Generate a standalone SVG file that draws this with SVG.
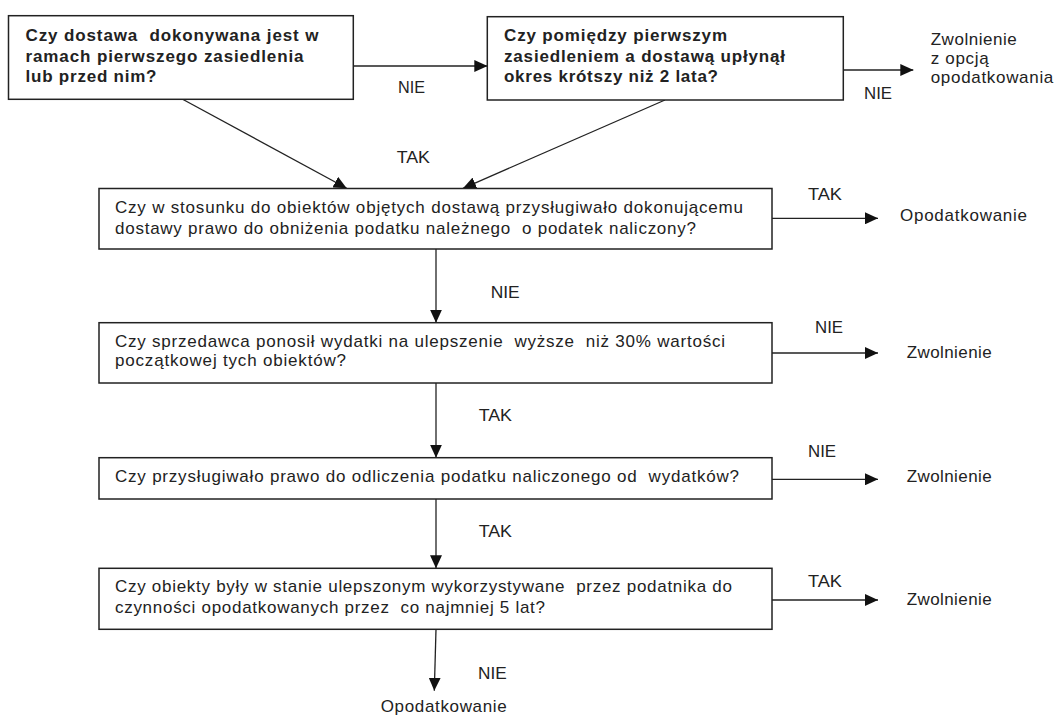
<svg xmlns="http://www.w3.org/2000/svg" width="1059" height="716" viewBox="0 0 1059 716">
<style>
.box{fill:#fff;stroke:#222;stroke-width:1.5}
.conn{stroke:#222;stroke-width:1.3;fill:none;marker-end:url(#ah)}
.t{font-family:"Liberation Sans",Arial,sans-serif;font-size:17px;fill:#222;white-space:pre}
.b{font-weight:bold}
</style>
<defs>
<marker id="ah" markerUnits="userSpaceOnUse" viewBox="0 0 13 12" markerWidth="13" markerHeight="12" refX="13" refY="6" orient="auto">
<path d="M0,0 L13,6 L0,12 z" fill="#111"/>
</marker>
</defs>
<rect width="1059" height="716" fill="#fff"/>
<g id="connectors">
<line class="conn" x1="353.3" y1="66" x2="487.3" y2="66"/>
<line class="conn" x1="843.3" y1="70" x2="913.3" y2="70"/>
<line class="conn" x1="182.6" y1="99.3" x2="346.7" y2="188.3"/>
<line class="conn" x1="665" y1="100" x2="463" y2="188.3"/>
<line class="conn" x1="772" y1="218.3" x2="878" y2="218.3"/>
<line class="conn" x1="436" y1="249" x2="436" y2="322.7"/>
<line class="conn" x1="772" y1="353" x2="878" y2="353"/>
<line class="conn" x1="436" y1="383" x2="436" y2="457.7"/>
<line class="conn" x1="772" y1="479.3" x2="878" y2="479.3"/>
<line class="conn" x1="436" y1="499" x2="436" y2="568.3"/>
<line class="conn" x1="772" y1="600" x2="878" y2="600"/>
<line class="conn" x1="436" y1="629.3" x2="434.3" y2="690.7"/>
<text class="t" x="398" y="92.7" textLength="27" lengthAdjust="spacingAndGlyphs">NIE</text>
<text class="t" x="864" y="99.3" textLength="28" lengthAdjust="spacingAndGlyphs">NIE</text>
<text class="t" x="396.7" y="162.7" textLength="33.3" lengthAdjust="spacingAndGlyphs">TAK</text>
<text class="t" x="808" y="200" textLength="34" lengthAdjust="spacingAndGlyphs">TAK</text>
<text class="t" x="490.7" y="298" textLength="29" lengthAdjust="spacingAndGlyphs">NIE</text>
<text class="t" x="815" y="333" textLength="28" lengthAdjust="spacingAndGlyphs">NIE</text>
<text class="t" x="478.7" y="420.7" textLength="33.3" lengthAdjust="spacingAndGlyphs">TAK</text>
<text class="t" x="808" y="457" textLength="28" lengthAdjust="spacingAndGlyphs">NIE</text>
<text class="t" x="478.7" y="536.7" textLength="33.3" lengthAdjust="spacingAndGlyphs">TAK</text>
<text class="t" x="808" y="586.7" textLength="34" lengthAdjust="spacingAndGlyphs">TAK</text>
<text class="t" x="478" y="678.5" textLength="28.7" lengthAdjust="spacingAndGlyphs">NIE</text>
</g>
<g id="n1">
<rect class="box" x="8.5" y="15.7" width="344.8" height="83.6"/>
<text class="t b" x="25.5" y="41" textLength="293" lengthAdjust="spacing">Czy dostawa  dokonywana jest w</text>
<text class="t b" x="25.5" y="61.5" textLength="278" lengthAdjust="spacing">ramach pierwszego zasiedlenia</text>
<text class="t b" x="25.5" y="81.5" textLength="131" lengthAdjust="spacing">lub przed nim?</text>
</g>
<g id="n2">
<rect class="box" x="487.3" y="16.7" width="356" height="83.3"/>
<text class="t b" x="504" y="41" textLength="223" lengthAdjust="spacing">Czy pomiędzy pierwszym</text>
<text class="t b" x="504" y="61.5" textLength="281" lengthAdjust="spacing">zasiedleniem a dostawą upłynął</text>
<text class="t b" x="504" y="81.5" textLength="214" lengthAdjust="spacing">okres krótszy niż 2 lata?</text>
</g>
<g id="n2out">
<text class="t" x="930.7" y="45" textLength="86" lengthAdjust="spacing">Zwolnienie</text>
<text class="t" x="930.7" y="64" textLength="58" lengthAdjust="spacing">z opcją</text>
<text class="t" x="930.7" y="83" textLength="122.6" lengthAdjust="spacing">opodatkowania</text>
</g>
<g id="n3">
<rect class="box" x="99" y="188.5" width="673" height="60.5"/>
<text class="t" x="115" y="213" textLength="628" lengthAdjust="spacing">Czy w stosunku do obiektów objętych dostawą przysługiwało dokonującemu</text>
<text class="t" x="115" y="234" textLength="581" lengthAdjust="spacing">dostawy prawo do obniżenia podatku należnego  o podatek naliczony?</text>
</g>
<g id="n3out">
<text class="t" x="900" y="220.7" textLength="127" lengthAdjust="spacing">Opodatkowanie</text>
</g>
<g id="n4">
<rect class="box" x="99" y="322.7" width="673" height="60.3"/>
<text class="t" x="115" y="346.5" textLength="610" lengthAdjust="spacing">Czy sprzedawca ponosił wydatki na ulepszenie  wyższe  niż 30% wartości</text>
<text class="t" x="115" y="366" textLength="231" lengthAdjust="spacing">początkowej tych obiektów?</text>
</g>
<g id="n4out">
<text class="t" x="906.7" y="358" textLength="85" lengthAdjust="spacing">Zwolnienie</text>
</g>
<g id="n5">
<rect class="box" x="99" y="457.7" width="673" height="41.3"/>
<text class="t" x="115" y="482" textLength="624" lengthAdjust="spacing">Czy przysługiwało prawo do odliczenia podatku naliczonego od  wydatków?</text>
</g>
<g id="n5out">
<text class="t" x="906.7" y="482.3" textLength="85" lengthAdjust="spacing">Zwolnienie</text>
</g>
<g id="n6">
<rect class="box" x="99" y="568.3" width="673" height="61"/>
<text class="t" x="115" y="592" textLength="617" lengthAdjust="spacing">Czy obiekty były w stanie ulepszonym wykorzystywane  przez podatnika do</text>
<text class="t" x="115" y="613" textLength="430" lengthAdjust="spacing">czynności opodatkowanych przez  co najmniej 5 lat?</text>
</g>
<g id="n6out">
<text class="t" x="906.7" y="605" textLength="85" lengthAdjust="spacing">Zwolnienie</text>
</g>
<g id="n7">
<text class="t" x="380.7" y="711.5" textLength="126" lengthAdjust="spacing">Opodatkowanie</text>
</g>
</svg>
